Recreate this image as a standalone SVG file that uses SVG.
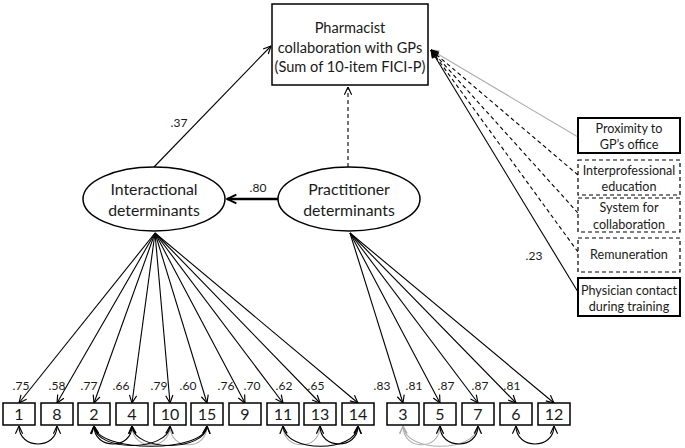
<svg xmlns="http://www.w3.org/2000/svg" width="685" height="448" viewBox="0 0 685 448">
<style>
text{font-family:Lato,"Open Sans","Liberation Sans",sans-serif;fill:#1a1a1a;text-anchor:middle}
.t{font-size:14.6px}
.e{font-size:15.8px}
.s{font-size:12.6px}
.n{font-size:16px}
.l{font-size:12px}
.box{fill:#fff;stroke:#000;stroke-width:1.5}
.bx{fill:#fff;stroke:#000;stroke-width:2}
.db{fill:#fff;stroke:#000;stroke-width:1.2;stroke-dasharray:4 3}
.ln{fill:none;stroke:#000;stroke-width:1.1}
.dl{fill:none;stroke:#000;stroke-width:1.1;stroke-dasharray:4 3}
.gl{fill:none;stroke:#b0b0b0;stroke-width:1.1}
</style>
<defs>
<marker id="a" viewBox="0 0 10 10" refX="9.5" refY="5" markerWidth="9" markerHeight="9" markerUnits="userSpaceOnUse" orient="auto-start-reverse"><path d="M1,1 L9.5,5 L1,9" fill="none" stroke="#000" stroke-width="1.3"/></marker>
<marker id="b" viewBox="0 0 10 10" refX="9.5" refY="5" markerWidth="11" markerHeight="11" markerUnits="userSpaceOnUse" orient="auto"><path d="M1,1 L9.5,5 L1,9" fill="none" stroke="#000" stroke-width="1.8"/></marker>
<marker id="g" viewBox="0 0 10 10" refX="9.5" refY="5" markerWidth="9" markerHeight="9" markerUnits="userSpaceOnUse" orient="auto-start-reverse"><path d="M1,1 L9.5,5 L1,9" fill="none" stroke="#b0b0b0" stroke-width="1.3"/></marker>
<marker id="f" viewBox="0 0 10 10" refX="9.5" refY="5" markerWidth="8" markerHeight="8" markerUnits="userSpaceOnUse" orient="auto"><path d="M0,0.5 L10,5 L0,9.5 Z" fill="#000"/></marker>
</defs>

<g id="connectors">
<line class="ln" x1="154" y1="167" x2="271" y2="46" marker-end="url(#a)"/>
<line class="dl" x1="348" y1="167" x2="348" y2="87" marker-end="url(#a)"/>
<line x1="278" y1="199" x2="227" y2="199" stroke="#000" stroke-width="2.6" marker-end="url(#b)"/>
<line class="gl" x1="578" y1="137" x2="431" y2="50" marker-end="url(#g)"/>
<line class="dl" x1="578" y1="175" x2="431" y2="50" marker-end="url(#a)"/>
<line class="dl" x1="578" y1="213" x2="431" y2="50" marker-end="url(#a)"/>
<line class="dl" x1="578" y1="252" x2="431" y2="50" marker-end="url(#a)"/>
<line class="ln" x1="578" y1="292" x2="431" y2="50" stroke-width="1.4" marker-end="url(#f)"/>
<g class="ln">
<line x1="155" y1="233" x2="19" y2="403" marker-end="url(#a)"/>
<line x1="155" y1="233" x2="57" y2="403" marker-end="url(#a)"/>
<line x1="155" y1="233" x2="94" y2="403" marker-end="url(#a)"/>
<line x1="155" y1="233" x2="132" y2="403" marker-end="url(#a)"/>
<line x1="155" y1="233" x2="170" y2="403" marker-end="url(#a)"/>
<line x1="155" y1="233" x2="207" y2="403" marker-end="url(#a)"/>
<line x1="155" y1="233" x2="245" y2="403" marker-end="url(#a)"/>
<line x1="155" y1="233" x2="283" y2="403" marker-end="url(#a)"/>
<line x1="155" y1="233" x2="320" y2="403" marker-end="url(#a)"/>
<line x1="155" y1="233" x2="358" y2="403" marker-end="url(#a)"/>
</g>
<g class="ln">
<line x1="350" y1="233" x2="403" y2="403" marker-end="url(#a)"/>
<line x1="350" y1="233" x2="440" y2="403" marker-end="url(#a)"/>
<line x1="350" y1="233" x2="478" y2="403" marker-end="url(#a)"/>
<line x1="350" y1="233" x2="516" y2="403" marker-end="url(#a)"/>
<line x1="350" y1="233" x2="554" y2="403" marker-end="url(#a)"/>
</g>
<path class="ln" d="M19,426 C19,450 57,450 57,426" marker-start="url(#a)" marker-end="url(#a)"/>
<path class="gl" d="M132,426 C132,451 170,451 170,426" marker-start="url(#g)" marker-end="url(#g)"/>
<path class="gl" d="M170,426 C170,451 207,451 207,426" marker-start="url(#g)" marker-end="url(#g)"/>
<path class="ln" d="M94,426 C94,450 132,450 132,426" marker-start="url(#a)" marker-end="url(#a)"/>
<path class="ln" d="M94,426 C96,452 168,452 170,426" marker-start="url(#a)" marker-end="url(#a)"/>
<path class="ln" d="M94,426 C98,453 205,453 207,426" marker-start="url(#a)" marker-end="url(#a)"/>
<path class="ln" d="M132,426 C134,452 205,452 207,426" marker-start="url(#a)" marker-end="url(#a)"/>
<path class="gl" d="M283,426 C283,451 320,451 320,426" marker-start="url(#g)" marker-end="url(#g)"/>
<path class="ln" d="M283,426 C285,453 356,453 358,426" marker-start="url(#a)" marker-end="url(#a)"/>
<path class="ln" d="M320,426 C320,450 358,450 358,426" marker-start="url(#a)" marker-end="url(#a)"/>
<path class="gl" d="M403,426 C403,451 440,451 440,426" marker-start="url(#g)" marker-end="url(#g)"/>
<path class="gl" d="M403,426 C405,453 476,453 478,426" marker-start="url(#g)" marker-end="url(#g)"/>
<path class="ln" d="M440,426 C440,450 478,450 478,426" marker-start="url(#a)" marker-end="url(#a)"/>
<path class="ln" d="M516,426 C516,450 554,450 554,426" marker-start="url(#a)" marker-end="url(#a)"/>
<text class="l" x="179" y="127">.37</text>
<text class="l" x="258" y="192">.80</text>
<text class="l" x="534" y="260">.23</text>
<text class="l" x="21" y="390">.75</text>
<text class="l" x="57" y="390">.58</text>
<text class="l" x="89" y="390">.77</text>
<text class="l" x="121" y="390">.66</text>
<text class="l" x="159" y="390">.79</text>
<text class="l" x="188" y="390">.60</text>
<text class="l" x="226" y="390">.76</text>
<text class="l" x="252" y="390">.70</text>
<text class="l" x="284" y="390">.62</text>
<text class="l" x="316" y="390">.65</text>
<text class="l" x="382" y="390">.83</text>
<text class="l" x="414" y="390">.81</text>
<text class="l" x="446" y="390">.87</text>
<text class="l" x="480" y="390">.87</text>
<text class="l" x="512" y="390">.81</text>
</g>

<g id="outcome">
<rect class="box" x="272" y="4" width="156" height="81"/>
<text class="t" x="350" y="33">Pharmacist</text>
<text class="t" x="350" y="53">collaboration with GPs</text>
<text class="t" x="350" y="72">(Sum of 10-item FICI-P)</text>
</g>

<g id="interactional">
<ellipse cx="154" cy="199" rx="71" ry="32" fill="#fff" stroke="#000" stroke-width="1.5"/>
<text class="e" x="154" y="195">Interactional</text>
<text class="e" x="154" y="216">determinants</text>
</g>

<g id="practitioner">
<ellipse cx="349" cy="199" rx="71" ry="32" fill="#fff" stroke="#000" stroke-width="1.5"/>
<text class="e" x="349" y="195">Practitioner</text>
<text class="e" x="349" y="216">determinants</text>
</g>

<g id="proximity">
<rect class="bx" x="578" y="118" width="102" height="35"/>
<text class="s" x="629" y="133">Proximity to</text>
<text class="s" x="629" y="149">GP’s office</text>
</g>
<g id="interprofessional">
<rect class="db" x="578" y="160" width="102" height="35"/>
<text class="s" x="629" y="175">Interprofessional</text>
<text class="s" x="629" y="191">education</text>
</g>
<g id="system">
<rect class="db" x="578" y="198" width="102" height="34"/>
<text class="s" x="629" y="212">System for</text>
<text class="s" x="629" y="229">collaboration</text>
</g>
<g id="remuneration">
<rect class="db" x="578" y="238" width="102" height="34"/>
<text class="s" x="629" y="259">Remuneration</text>
</g>
<g id="physician">
<rect class="bx" x="578" y="278" width="102" height="38"/>
<text class="s" x="629" y="295">Physician contact</text>
<text class="s" x="629" y="311">during training</text>
</g>

<g id="item1"><rect class="box" x="3" y="403" width="32" height="22"/><text class="n" x="19" y="420">1</text></g>
<g id="item8"><rect class="box" x="41" y="403" width="32" height="22"/><text class="n" x="57" y="420">8</text></g>
<g id="item2"><rect class="box" x="78" y="403" width="32" height="22"/><text class="n" x="94" y="420">2</text></g>
<g id="item4"><rect class="box" x="116" y="403" width="32" height="22"/><text class="n" x="132" y="420">4</text></g>
<g id="item10"><rect class="box" x="154" y="403" width="32" height="22"/><text class="n" x="170" y="420">10</text></g>
<g id="item15"><rect class="box" x="191" y="403" width="32" height="22"/><text class="n" x="207" y="420">15</text></g>
<g id="item9"><rect class="box" x="229" y="403" width="32" height="22"/><text class="n" x="245" y="420">9</text></g>
<g id="item11"><rect class="box" x="267" y="403" width="32" height="22"/><text class="n" x="283" y="420">11</text></g>
<g id="item13"><rect class="box" x="304" y="403" width="32" height="22"/><text class="n" x="320" y="420">13</text></g>
<g id="item14"><rect class="box" x="342" y="403" width="32" height="22"/><text class="n" x="358" y="420">14</text></g>
<g id="item3"><rect class="box" x="387" y="403" width="32" height="22"/><text class="n" x="403" y="420">3</text></g>
<g id="item5"><rect class="box" x="424" y="403" width="32" height="22"/><text class="n" x="440" y="420">5</text></g>
<g id="item7"><rect class="box" x="462" y="403" width="32" height="22"/><text class="n" x="478" y="420">7</text></g>
<g id="item6"><rect class="box" x="500" y="403" width="32" height="22"/><text class="n" x="516" y="420">6</text></g>
<g id="item12"><rect class="box" x="538" y="403" width="32" height="22"/><text class="n" x="554" y="420">12</text></g>
</svg>
